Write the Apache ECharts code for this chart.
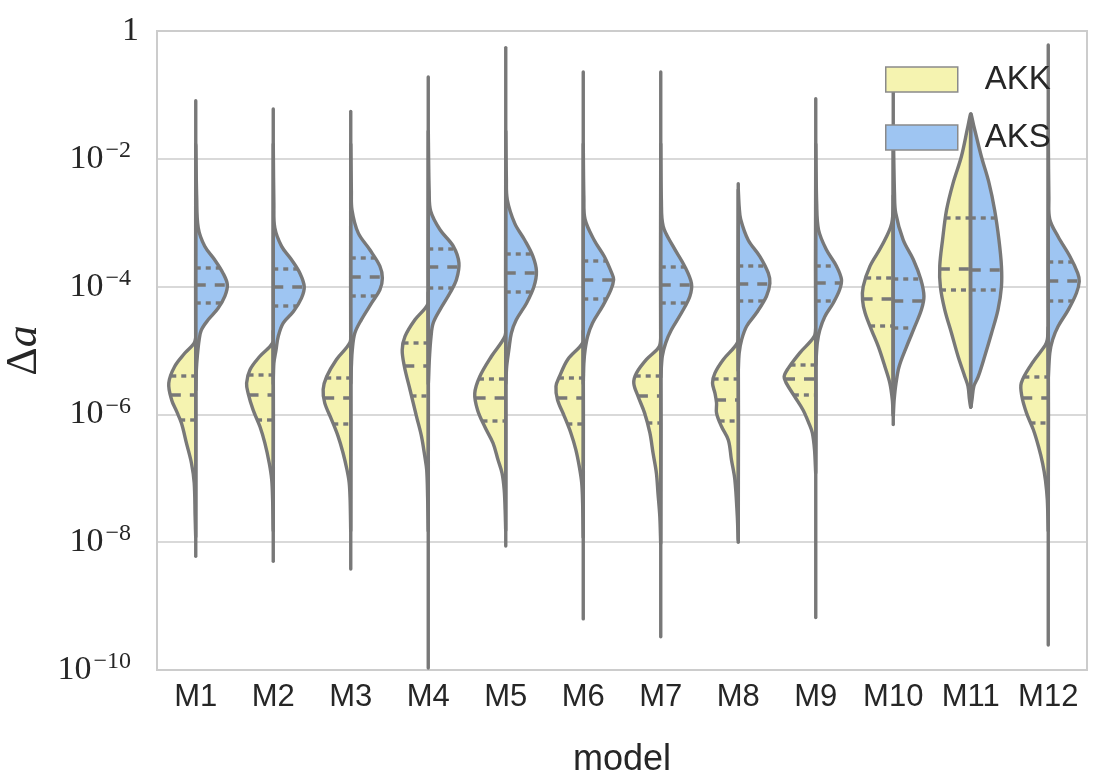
<!DOCTYPE html>
<html>
<head>
<meta charset="utf-8">
<script src="https://cdn.jsdelivr.net/npm/echarts@6/dist/echarts.min.js"></script>
<style>
  html, body { margin: 0; padding: 0; background: #fff; }
  #main { width: 1103px; height: 780px; }
</style>
</head>
<body>
<div id="main"></div>
<script>
// 模型名称
var models = ["M1", "M2", "M3", "M4", "M5", "M6", "M7", "M8", "M9", "M10", "M11", "M12"];

// 小提琴形状：[log10(Δa), 相对半宽]，从上到下
var akkShape = [
  [[-4.6, 0], [-4.86, 0.03], [-5.04, 0.35], [-5.25, 0.68], [-5.51, 0.87], [-5.77, 0.78], [-5.95, 0.62], [-6.14, 0.46], [-6.45, 0.30], [-6.76, 0.14], [-7.07, 0.05], [-7.6, 0.02], [-7.9, 0]],
  [[-4.7, 0], [-4.88, 0.02], [-5.09, 0.43], [-5.3, 0.75], [-5.51, 0.86], [-5.67, 0.81], [-5.93, 0.65], [-6.19, 0.43], [-6.45, 0.27], [-6.76, 0.13], [-7.02, 0.05], [-7.34, 0.02], [-7.8, 0]],
  [[-4.7, 0], [-4.88, 0.03], [-5.14, 0.46], [-5.41, 0.78], [-5.61, 0.89], [-5.82, 0.84], [-6.08, 0.62], [-6.34, 0.41], [-6.6, 0.25], [-6.87, 0.12], [-7.07, 0.05], [-7.34, 0.02], [-7.8, 0]],
  [[-4.1, 0], [-4.28, 0.02], [-4.52, 0.43], [-4.78, 0.75], [-4.99, 0.84], [-5.25, 0.77], [-5.61, 0.59], [-6.03, 0.38], [-6.34, 0.22], [-6.66, 0.11], [-6.87, 0.05], [-7.3, 0.02], [-7.8, 0]],
  [[-4.6, 0], [-4.78, 0.03], [-5.09, 0.46], [-5.41, 0.84], [-5.67, 1.0], [-5.93, 0.91], [-6.19, 0.68], [-6.45, 0.41], [-6.71, 0.25], [-6.92, 0.12], [-7.18, 0.05], [-7.5, 0.02], [-7.8, 0]],
  [[-4.7, 0], [-4.88, 0.02], [-5.14, 0.5], [-5.41, 0.77], [-5.56, 0.88], [-5.77, 0.83], [-6.03, 0.61], [-6.29, 0.4], [-6.55, 0.24], [-6.81, 0.13], [-7.07, 0.05], [-7.39, 0.02], [-7.9, 0]],
  [[-4.75, 0], [-4.94, 0.05], [-5.14, 0.46], [-5.35, 0.78], [-5.51, 0.87], [-5.72, 0.73], [-5.98, 0.52], [-6.29, 0.35], [-6.6, 0.25], [-6.92, 0.14], [-7.23, 0.09], [-7.6, 0.03], [-8.0, 0]],
  [[-4.7, 0], [-4.88, 0.03], [-5.14, 0.48], [-5.35, 0.75], [-5.51, 0.83], [-5.67, 0.75], [-5.82, 0.7], [-5.98, 0.7], [-6.19, 0.54], [-6.4, 0.32], [-6.71, 0.22], [-7.02, 0.11], [-7.6, 0.03], [-7.95, 0]],
  [[-4.6, 0], [-4.78, 0.05], [-5.04, 0.52], [-5.28, 0.89], [-5.41, 1.02], [-5.51, 0.95], [-5.72, 0.68], [-5.93, 0.41], [-6.14, 0.22], [-6.29, 0.11], [-6.55, 0.04], [-6.9, 0]],
  [[-2.6, 0], [-3.01, 0.05], [-3.37, 0.38], [-3.68, 0.75], [-4.0, 0.97], [-4.21, 0.99], [-4.41, 0.91], [-4.68, 0.7], [-4.94, 0.48], [-5.25, 0.27], [-5.51, 0.11], [-5.77, 0.03], [-6.0, 0]],
  [[-1.31, 0], [-1.49, 0.09], [-1.96, 0.3], [-2.38, 0.57], [-2.8, 0.78], [-3.27, 0.91], [-3.68, 1.0], [-4.0, 0.98], [-4.36, 0.84], [-4.73, 0.62], [-5.09, 0.41], [-5.41, 0.19], [-5.56, 0.09], [-5.77, 0.04], [-5.88, 0]],
  [[-4.65, 0], [-4.83, 0.03], [-4.92, 0.1], [-5.22, 0.55], [-5.51, 0.87], [-5.72, 0.85], [-5.98, 0.7], [-6.24, 0.48], [-6.51, 0.31], [-6.77, 0.18], [-7.03, 0.09], [-7.34, 0.03], [-7.8, 0]]
];
var aksShape = [
  [[-1.8, 0], [-2.6, 0.03], [-3.08, 0.08], [-3.37, 0.29], [-3.58, 0.61], [-3.79, 0.88], [-3.97, 1.02], [-4.15, 0.94], [-4.34, 0.72], [-4.52, 0.4], [-4.68, 0.18], [-4.83, 0.11], [-5.09, 0.05], [-5.3, 0.02], [-5.6, 0]],
  [[-1.8, 0], [-2.7, 0.02], [-3.08, 0.05], [-3.37, 0.27], [-3.58, 0.59], [-3.79, 0.86], [-4.0, 1.0], [-4.18, 0.91], [-4.39, 0.65], [-4.57, 0.32], [-4.78, 0.16], [-4.99, 0.09], [-5.2, 0.02], [-5.5, 0]],
  [[-1.8, 0], [-2.5, 0.02], [-2.8, 0.04], [-3.16, 0.24], [-3.42, 0.61], [-3.68, 0.94], [-3.87, 1.02], [-4.05, 0.94], [-4.26, 0.67], [-4.52, 0.34], [-4.73, 0.13], [-4.99, 0.05], [-5.25, 0.02], [-5.5, 0]],
  [[-1.6, 0], [-2.5, 0.03], [-2.82, 0.08], [-3.11, 0.38], [-3.37, 0.81], [-3.63, 0.99], [-3.89, 0.91], [-4.1, 0.7], [-4.36, 0.38], [-4.57, 0.16], [-4.78, 0.09], [-5.1, 0.04], [-5.5, 0]],
  [[-1.6, 0], [-2.3, 0.02], [-2.64, 0.05], [-3.01, 0.29], [-3.27, 0.61], [-3.53, 0.88], [-3.76, 0.99], [-4.0, 0.91], [-4.26, 0.67], [-4.52, 0.34], [-4.73, 0.18], [-4.99, 0.1], [-5.25, 0.03], [-5.5, 0]],
  [[-1.8, 0], [-2.6, 0.02], [-2.95, 0.06], [-3.27, 0.35], [-3.53, 0.68], [-3.79, 0.92], [-3.89, 0.98], [-4.05, 0.89], [-4.31, 0.62], [-4.57, 0.3], [-4.78, 0.14], [-4.99, 0.06], [-5.2, 0.02], [-5.5, 0]],
  [[-1.8, 0], [-2.64, 0.02], [-3.06, 0.08], [-3.37, 0.4], [-3.68, 0.77], [-3.95, 0.99], [-4.15, 0.94], [-4.41, 0.67], [-4.68, 0.34], [-4.88, 0.16], [-5.09, 0.05], [-5.4, 0]],
  [[-2.5, 0], [-2.75, 0.03], [-2.95, 0.08], [-3.27, 0.32], [-3.53, 0.7], [-3.79, 0.97], [-3.95, 1.02], [-4.15, 0.91], [-4.41, 0.59], [-4.62, 0.27], [-4.83, 0.11], [-5.04, 0.03], [-5.3, 0]],
  [[-1.8, 0], [-2.7, 0.03], [-3.11, 0.09], [-3.42, 0.34], [-3.68, 0.67], [-3.89, 0.83], [-4.05, 0.77], [-4.26, 0.56], [-4.47, 0.29], [-4.68, 0.13], [-4.88, 0.05], [-5.2, 0]],
  [[-1.6, 0], [-2.54, 0.04], [-2.85, 0.08], [-3.27, 0.32], [-3.58, 0.65], [-3.89, 0.89], [-4.15, 0.99], [-4.36, 0.91], [-4.62, 0.7], [-4.94, 0.43], [-5.25, 0.19], [-5.51, 0.09], [-5.77, 0.03], [-6.0, 0]],
  [[-1.31, 0], [-1.49, 0.1], [-1.96, 0.34], [-2.38, 0.59], [-2.8, 0.77], [-3.27, 0.91], [-3.68, 0.99], [-4.0, 0.99], [-4.36, 0.88], [-4.73, 0.67], [-5.09, 0.45], [-5.41, 0.24], [-5.56, 0.1], [-5.77, 0.04], [-5.88, 0]],
  [[-1.6, 0], [-2.6, 0.02], [-2.95, 0.05], [-3.22, 0.32], [-3.53, 0.7], [-3.79, 0.95], [-3.92, 1.0], [-4.1, 0.91], [-4.36, 0.65], [-4.62, 0.32], [-4.83, 0.14], [-5.04, 0.05], [-5.4, 0]]
];

// 四分位数 [Q1, 中位数, Q3]（log10）
var akkQuart = [
  [-6.09, -5.70, -5.40], [-6.08, -5.69, -5.39], [-6.15, -5.75, -5.43], [-5.71, -5.24, -4.89],
  [-6.11, -5.75, -5.45], [-6.15, -5.74, -5.43], [-6.14, -5.71, -5.40], [-6.11, -5.77, -5.44],
  [-5.70, -5.45, -5.23], [-4.62, -4.20, -3.86], [-4.05, -3.73, -2.92], [-6.13, -5.74, -5.42]
];
var aksQuart = [
  [-4.26, -3.97, -3.71], [-4.30, -4.01, -3.73], [-4.14, -3.85, -3.55], [-4.02, -3.70, -3.41],
  [-4.08, -3.79, -3.49], [-4.19, -3.89, -3.60], [-4.26, -3.98, -3.69], [-4.23, -3.96, -3.68],
  [-4.22, -3.95, -3.67], [-4.65, -4.22, -3.88], [-4.06, -3.74, -2.93], [-4.22, -3.91, -3.62]
];

// 尾部上下端（log10）
var tailTop = [-1.09, -1.22, -1.26, -0.72, -0.26, -0.64, -0.64, -2.39, -1.06, -0.70, -1.31, -0.22];
var tailBottom = [-8.22, -8.30, -8.42, -9.97, -8.06, -9.20, -9.48, -8.00, -9.18, -6.16, -5.88, -9.61];

// y轴刻度（指数）
var yTicks = [-10, -8, -6, -4, -2, 0];

var gray = "#787878";
var yellow = "#f5f3b0";
var blue = "#9ec5f2";
var lw = 3.4;

// 在形状上求某个值处的半宽
function widthAt(shape, v) {
  for (var k = 0; k < shape.length - 1; k++) {
    var a = shape[k], b = shape[k + 1];
    if (v <= a[0] && v >= b[0]) {
      var t = (a[0] - v) / (a[0] - b[0]);
      return a[1] + (b[1] - a[1]) * t;
    }
  }
  return 0;
}

function makeRender(shapes, quarts, side, fill, withStick) {
  return function (params, api) {
    var i = params.dataIndex;
    var xc = api.coord([i, 0])[0];
    var half = api.size([1, 0])[0] * 0.4;
    var shape = shapes[i];
    var pts = shape.map(function (p) {
      return [xc + side * p[1] * half, api.coord([i, p[0]])[1]];
    });
    var children = [
      {
        type: "polygon",
        shape: { points: pts, smooth: 0.35 },
        style: { fill: fill, stroke: gray, lineWidth: lw, lineJoin: "round" },
      },
    ];
    // 四分位线
    quarts[i].forEach(function (q, k) {
      var y = Math.round(api.coord([i, q])[1]);
      var w = widthAt(shape, q) * half;
      var xs = side < 0 ? [xc - w, xc] : [xc, xc + w];
      children.push({
        type: "line",
        shape: { x1: xs[0], y1: y, x2: xs[1], y2: y },
        style: {
          stroke: gray,
          lineWidth: lw,
          lineDash: k === 1 ? [10, 9] : [5, 5],
        },
      });
    });
    if (withStick) {
      children.push({
        type: "line",
        shape: {
          x1: xc, y1: api.coord([i, tailTop[i]])[1],
          x2: xc, y2: api.coord([i, tailBottom[i]])[1],
        },
        style: { stroke: gray, lineWidth: lw, lineCap: "round" },
      });
    }
    return { type: "group", children: children };
  };
}

var chart = echarts.init(document.getElementById("main"), null, { renderer: "canvas" });

var option = {
  animation: false,
  backgroundColor: "#ffffff",
  grid: {
    left: 157,
    right: 16,
    top: 31,
    bottom: 110,
    containLabel: false,
    outerBoundsMode: "none",
    show: true,
    borderColor: "#cccccc",
    borderWidth: 2,
  },
  legend: {
    data: ["AKK", "AKS"],
    orient: "vertical",
    left: 885,
    top: 63,
    padding: 0,
    icon: "rect",
    itemWidth: 72,
    itemHeight: 25,
    itemGap: 25,
    itemStyle: { borderColor: "#8a8a8a", borderWidth: 1.5 },
    textStyle: {
      fontFamily: "Liberation Sans",
      fontSize: 33,
      color: "#262626",
      lineHeight: 26,
      padding: [0, 0, 0, 22],
    },
    selectedMode: false,
  },
  xAxis: {
    type: "category",
    data: models,
    name: "model",
    nameLocation: "middle",
    nameGap: 72,
    nameTextStyle: { fontFamily: "Liberation Sans", fontSize: 36, color: "#262626" },
    axisLine: { show: false },
    axisTick: { show: false },
    axisLabel: { interval: 0, fontFamily: "Liberation Sans", fontSize: 31, color: "#262626", margin: 12 },
    splitLine: { show: false },
  },
  yAxis: {
    type: "value",
    min: yTicks[0],
    max: yTicks[yTicks.length - 1],
    interval: 2,
    name: "{d|Δ}{a|a}",
    nameLocation: "middle",
    nameRotate: 90,
    nameGap: 108,
    nameTextStyle: {
      rich: {
        d: { fontFamily: "Liberation Serif", fontSize: 44, color: "#262626" },
        a: { fontFamily: "Liberation Serif", fontStyle: "italic", fontSize: 44, color: "#262626" },
      },
    },
    axisLine: { show: false },
    axisTick: { show: false },
    splitLine: { lineStyle: { color: "#cccccc", width: 1.6 } },
    axisLabel: {
      margin: 18,
      formatter: function (v) {
        if (v === 0) return "{b|1}";
        return "{b|10}{s|−" + -v + "}";
      },
      rich: {
        b: { fontFamily: "Liberation Serif", fontSize: 34, color: "#262626", lineHeight: 40 },
        s: { fontFamily: "Liberation Serif", fontSize: 24, color: "#262626", lineHeight: 18, verticalAlign: "top", padding: [0, 8, 0, 2] },
      },
    },
  },
  series: [
    {
      name: "AKK",
      type: "custom",
      itemStyle: { color: yellow },
      renderItem: makeRender(akkShape, akkQuart, -1, yellow, false),
      encode: { x: 0, y: 1 },
      data: models.map(function (m, i) { return [i, akkQuart[i][1]]; }),
      z: 2,
    },
    {
      name: "AKS",
      type: "custom",
      itemStyle: { color: blue },
      renderItem: makeRender(aksShape, aksQuart, 1, blue, true),
      encode: { x: 0, y: 1 },
      data: models.map(function (m, i) { return [i, aksQuart[i][1]]; }),
      z: 3,
    },
  ],
};

chart.setOption(option);
</script>
</body>
</html>
